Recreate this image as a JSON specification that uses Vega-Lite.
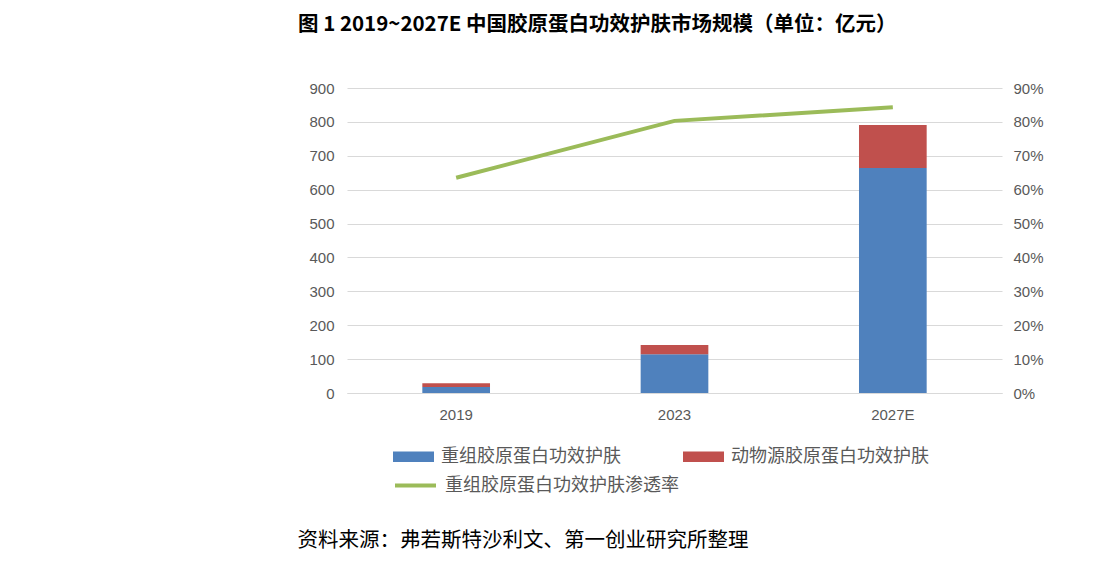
{
  "$schema": "https://vega.github.io/schema/vega-lite/v6.json",
  "autosize": {"type": "none"},
  "width": 655,
  "height": 305,
  "padding": {"left": 347, "top": 88, "right": 104, "bottom": 172},
  "background": "white",
  "config": {
    "view": {"stroke": null},
    "font": "Liberation Sans",
    "axis": {"labelFont": "Liberation Sans", "labelFontSize": 15, "labelColor": "#595959", "ticks": false, "tickSize": 0, "domain": false, "gridColor": "#D9D9D9", "gridWidth": 1}
  },
  "title": {
    "text": "图 1 2019~2027E 中国胶原蛋白功效护肤市场规模（单位：亿元）",
    "font": "Noto Sans CJK SC",
    "fontWeight": "bold",
    "fontSize": 20.5,
    "color": "#000000",
    "anchor": "start",
    "frame": "group",
    "dx": -49,
    "baseline": "bottom",
    "offset": 26
  },
  "datasets": {
    "bars": [
      {"year": "2019", "series": "重组胶原蛋白功效护肤", "value": 18},
      {"year": "2019", "series": "动物源胶原蛋白功效护肤", "value": 11},
      {"year": "2023", "series": "重组胶原蛋白功效护肤", "value": 114},
      {"year": "2023", "series": "动物源胶原蛋白功效护肤", "value": 28},
      {"year": "2027E", "series": "重组胶原蛋白功效护肤", "value": 664},
      {"year": "2027E", "series": "动物源胶原蛋白功效护肤", "value": 127}
    ],
    "rate": [
      {"year": "2019", "rate": 0.635},
      {"year": "2023", "rate": 0.803},
      {"year": "2027E", "rate": 0.843}
    ]
  },
  "encoding": {
    "x": {
      "field": "year",
      "type": "nominal",
      "sort": ["2019", "2023", "2027E"],
      "scale": {"paddingInner": 0.69, "paddingOuter": 0.345},
      "axis": {
        "labelAngle": 0,
        "labelPadding": 14,
        "domain": true,
        "domainColor": "#D9D9D9",
        "title": "资料来源：弗若斯特沙利文、第一创业研究所整理",
        "titleFont": "Noto Sans CJK SC",
        "titleFontSize": 20.5,
        "titleFontWeight": "normal",
        "titleColor": "#000000",
        "titleAlign": "left",
        "titleBaseline": "middle",
        "titleX": -50,
        "titleY": 147
      }
    }
  },
  "layer": [
    {
      "data": {"name": "bars"},
      "mark": {"type": "bar"},
      "encoding": {
        "y": {
          "field": "value",
          "type": "quantitative",
          "stack": "zero",
          "scale": {"domain": [0, 900]},
          "axis": {"title": null, "values": [0, 100, 200, 300, 400, 500, 600, 700, 800, 900], "grid": true, "labelPadding": 13}
        },
        "color": {
          "field": "series",
          "type": "nominal",
          "scale": {"domain": ["重组胶原蛋白功效护肤", "动物源胶原蛋白功效护肤"], "range": ["#4F81BD", "#C0504D"]},
          "legend": {
            "title": null,
            "orient": "none",
            "legendX": 46,
            "legendY": 348,
            "direction": "horizontal",
            "columns": 2,
            "columnPadding": 62,
            "padding": 0,
            "symbolType": "M-1,-0.26L1,-0.26L1,0.26L-1,0.26Z",
            "symbolSize": 1681,
            "symbolStrokeWidth": 0,
            "labelFont": "Noto Sans CJK SC",
            "labelFontSize": 18,
            "labelColor": "#595959",
            "labelOffset": 7,
            "labelLimit": 400
          }
        },
        "order": {"field": "series", "sort": "descending"}
      }
    },
    {
      "data": {"name": "rate"},
      "mark": {"type": "line", "strokeWidth": 4},
      "encoding": {
        "y": {
          "field": "rate",
          "type": "quantitative",
          "scale": {"domain": [0, 0.9]},
          "axis": {"title": null, "orient": "right", "format": ".0%", "values": [0, 0.1, 0.2, 0.3, 0.4, 0.5, 0.6, 0.7, 0.8, 0.9], "grid": false, "labelPadding": 11}
        },
        "stroke": {
          "datum": "重组胶原蛋白功效护肤渗透率",
          "scale": {"range": ["#9BBB59"]},
          "legend": {
            "title": null,
            "orient": "none",
            "legendX": 46,
            "legendY": 375,
            "padding": 0,
            "symbolType": "stroke",
            "symbolSize": 1681,
            "symbolStrokeWidth": 4,
            "labelFont": "Noto Sans CJK SC",
            "labelFontSize": 18,
            "labelColor": "#595959",
            "labelOffset": 7,
            "labelLimit": 400
          }
        }
      }
    }
  ],
  "resolve": {"scale": {"y": "independent"}}
}
